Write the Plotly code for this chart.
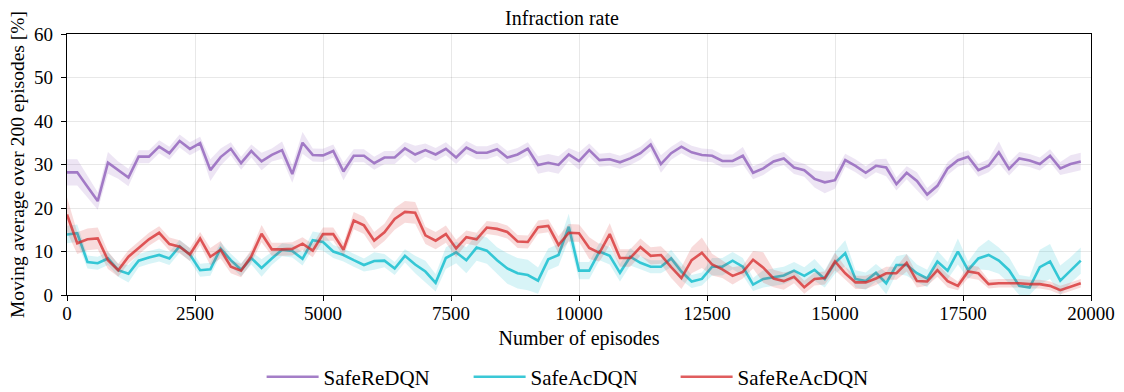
import plotly.graph_objects as go

# Episode index of each moving-average sample (every 200 episodes)
episodes = list(range(0, 20000, 200))

safe_re_dqn = [
    28.2, 28.2, 24.9, 21.6, 30.4, 28.7, 27.0, 31.8, 31.8, 34.1, 32.6, 35.4, 33.6, 34.9, 28.7, 31.7, 33.6,
    30.3, 33.1, 30.7, 32.2, 33.3, 27.8, 35.0, 32.2, 32.1, 33.1, 28.4, 32.0, 32.0, 30.3, 31.6, 31.6, 33.7,
    32.3, 33.3, 32.3, 33.6, 31.6, 33.9, 32.7, 32.7, 33.5, 31.6, 32.3, 33.6, 29.9, 30.4, 29.9, 32.3, 30.8,
    33.3, 31.0, 31.2, 30.5, 31.4, 32.6, 34.6, 30.1, 32.6, 34.1, 32.8, 32.2, 32.0, 30.8, 30.8, 32.0,
    28.1, 29.1, 30.7, 31.4, 29.3, 28.7, 26.7, 25.9, 26.4, 31.0, 29.7, 28.1, 29.7, 29.3, 25.5, 28.1, 26.2,
    23.1, 25.1, 29.1, 31.0, 31.8, 28.7, 29.7, 32.8, 29.0, 31.4, 30.9, 30.1, 32.0, 29.1, 30.1, 30.7,
]
safe_re_dqn_sd = [
    3.0, 3.0, 2.5, 2.0, 2.5, 2.0, 2.0, 1.5, 1.5, 1.5, 1.5, 1.5, 1.5, 1.5, 2.5, 2.0, 1.5,
    1.5, 1.5, 2.0, 1.5, 2.0, 2.0, 2.5, 1.5, 1.5, 1.5, 2.0, 1.5, 1.5, 1.5, 1.5, 1.5, 1.5,
    2.0, 1.5, 1.5, 1.5, 1.5, 1.5, 1.5, 1.5, 1.5, 1.5, 1.5, 1.5, 2.0, 2.0, 2.0, 1.5, 2.0,
    1.5, 1.5, 1.5, 1.5, 1.5, 1.5, 1.5, 2.0, 1.5, 1.5, 1.5, 1.5, 1.5, 1.5, 1.5, 2.0,
    1.5, 1.5, 1.5, 1.5, 1.5, 1.5, 2.0, 2.5, 2.0, 1.5, 1.5, 1.5, 1.5, 2.0, 1.5, 1.5, 2.0,
    1.5, 1.5, 1.5, 1.5, 1.5, 1.5, 1.5, 2.5, 1.5, 1.5, 1.5, 1.5, 1.5, 1.5, 2.0, 2.0,
]

safe_ac_dqn = [
    13.9, 14.2, 7.6, 7.3, 8.4, 5.7, 4.9, 7.9, 8.6, 9.2, 8.4, 11.2, 9.3, 5.7, 5.9, 10.7, 8.0,
    5.8, 8.5, 6.2, 8.4, 10.4, 10.1, 8.3, 12.6, 12.2, 10.0, 9.2, 8.0, 6.9, 7.8, 7.9, 6.1, 9.0,
    7.0, 5.4, 2.8, 8.5, 9.8, 8.0, 10.9, 10.2, 8.0, 6.1, 5.0, 4.6, 3.3, 8.2, 9.2, 15.7, 5.6,
    5.6, 10.0, 9.0, 5.1, 8.8, 7.4, 6.5, 6.5, 8.4, 5.4, 3.1, 3.7, 6.5, 6.5, 7.9, 6.5,
    2.4, 3.7, 4.1, 4.5, 5.6, 4.4, 5.8, 3.7, 7.4, 9.6, 3.7, 3.2, 5.1, 2.7, 6.9, 6.9, 5.0,
    3.8, 7.7, 5.6, 10.0, 5.7, 8.4, 9.2, 7.9, 5.7, 2.1, 1.7, 6.4, 7.7, 3.3, 5.7, 7.9,
]
safe_ac_dqn_sd = [
    2.0, 2.0, 1.5, 1.5, 1.5, 1.5, 2.0, 1.5, 1.5, 1.5, 1.5, 1.5, 1.5, 1.5, 1.5, 1.5, 1.5,
    1.5, 1.5, 2.0, 1.5, 1.5, 1.5, 1.5, 2.0, 2.0, 1.5, 1.5, 1.5, 1.5, 2.0, 1.5, 1.5, 1.5,
    2.0, 2.5, 2.0, 2.5, 2.5, 3.0, 3.0, 3.0, 3.0, 3.5, 3.5, 3.5, 3.0, 2.5, 2.5, 3.0, 2.0,
    2.0, 2.0, 2.0, 2.0, 2.0, 1.5, 1.5, 1.5, 2.0, 2.0, 1.5, 1.5, 2.0, 2.0, 2.0, 2.0,
    1.5, 2.0, 2.0, 2.0, 2.0, 2.0, 2.5, 2.0, 2.5, 3.0, 2.0, 2.0, 2.0, 2.5, 2.0, 2.5, 2.0,
    2.0, 2.5, 2.0, 3.0, 2.0, 2.5, 3.5, 3.0, 3.0, 2.5, 2.5, 4.0, 4.0, 3.5, 3.0, 3.0,
]

safe_re_ac_dqn = [
    18.5, 11.9, 12.8, 13.0, 8.0, 5.7, 8.8, 10.9, 12.8, 14.3, 11.7, 11.1, 9.3, 13.0, 8.8, 10.4, 6.5,
    5.6, 8.9, 14.1, 10.5, 10.5, 10.6, 11.8, 10.2, 14.0, 14.0, 10.4, 17.1, 16.0, 12.5, 14.4, 17.5, 19.1,
    18.9, 13.7, 12.5, 14.0, 10.7, 13.3, 12.8, 15.5, 15.2, 14.5, 12.3, 12.2, 15.6, 15.9, 11.5, 14.3, 14.2,
    10.8, 9.7, 14.0, 8.5, 8.5, 11.0, 9.0, 9.2, 6.4, 3.9, 8.0, 9.7, 7.0, 5.9, 4.4, 5.3,
    8.1, 6.3, 3.8, 3.2, 4.2, 1.8, 3.7, 3.9, 7.7, 5.0, 2.9, 2.9, 3.8, 5.0, 5.0, 7.4, 3.2,
    3.1, 5.7, 3.2, 2.1, 5.4, 5.0, 2.5, 2.7, 2.7, 2.7, 2.5, 2.5, 2.1, 1.1, 1.9, 2.7,
]
safe_re_ac_dqn_sd = [
    4.0, 2.5, 2.5, 2.5, 2.0, 1.5, 1.5, 1.5, 1.5, 1.5, 1.5, 1.5, 1.5, 1.5, 2.0, 2.0, 1.5,
    1.5, 1.5, 2.0, 1.5, 1.5, 1.5, 1.5, 1.5, 1.5, 1.5, 1.5, 2.0, 2.0, 2.0, 2.0, 2.5, 2.5,
    2.5, 2.0, 2.0, 2.0, 2.0, 1.5, 1.5, 1.5, 1.5, 1.5, 1.5, 1.5, 1.5, 1.5, 2.0, 2.0, 2.0,
    2.5, 2.0, 2.5, 2.0, 2.0, 2.0, 2.0, 2.0, 2.5, 2.5, 3.0, 3.5, 2.5, 2.0, 2.0, 1.5,
    2.0, 3.5, 2.0, 2.0, 1.5, 1.5, 1.5, 1.5, 2.0, 1.5, 1.5, 1.5, 1.5, 1.5, 1.5, 2.0, 1.5,
    1.0, 1.5, 1.5, 1.0, 1.5, 1.5, 1.0, 1.0, 1.0, 1.0, 1.0, 1.0, 1.0, 1.0, 1.0, 1.0,
]

x_ticks = [0, 2500, 5000, 7500, 10000, 12500, 15000, 17500, 20000]
y_ticks = [0, 10, 20, 30, 40, 50, 60]

series_names = ["SafeReDQN", "SafeAcDQN", "SafeReAcDQN"]
line_colors = ["rgba(148,103,189,0.85)", "rgba(23,190,207,0.85)", "rgba(214,39,40,0.75)"]
band_colors = ["rgba(148,103,189,0.17)", "rgba(23,190,207,0.17)", "rgba(214,39,40,0.17)"]
series_means = [safe_re_dqn, safe_ac_dqn, safe_re_ac_dqn]
series_sds = [safe_re_dqn_sd, safe_ac_dqn_sd, safe_re_ac_dqn_sd]

FONT = "Liberation Serif"
FS = 20        # titles
LEG_FS = 21    # legend entries
YT_FS = 19.5   # vertical axis title
TICK_FS = 19   # tick labels

fig = go.Figure()
for name, mean, sd, lc, bc in zip(series_names, series_means, series_sds, line_colors, band_colors):
    lower = [max(m - s, 0) for m, s in zip(mean, sd)]
    upper = [m + s for m, s in zip(mean, sd)]
    fig.add_trace(go.Scatter(x=episodes, y=lower, mode="lines", line=dict(width=0),
                             showlegend=False, hoverinfo="skip"))
    fig.add_trace(go.Scatter(x=episodes, y=upper, mode="lines", line=dict(width=0),
                             fill="tonexty", fillcolor=bc, showlegend=False, hoverinfo="skip"))
    fig.add_trace(go.Scatter(x=episodes, y=mean, mode="lines", name=name,
                             line=dict(color=lc, width=2.6)))

axis_common = dict(
    showline=True, linecolor="black", linewidth=1.3, mirror=True,
    ticks="outside", ticklen=5, tickwidth=1.2, tickcolor="black",
    showgrid=True, gridcolor="rgba(0,0,0,0.09)", gridwidth=1,
    zeroline=False, automargin=False,
    tickfont=dict(family=FONT, size=TICK_FS, color="black"),
)

fig.update_layout(
    width=1124, height=392,
    margin=dict(l=67, r=33, t=34, b=97),
    paper_bgcolor="white", plot_bgcolor="white",
    font=dict(family=FONT, size=FS, color="black"),
    title=dict(text="Infraction rate", x=0.5, xanchor="center", y=0.955, yanchor="middle",
               font=dict(family=FONT, size=FS, color="black")),
    xaxis=dict(range=[0, 20000], tickvals=x_ticks, ticktext=[str(v) for v in x_ticks],
               ticklabelstandoff=-4,
               title=dict(text="Number of episodes", standoff=8, font=dict(family=FONT, size=FS)),
               **axis_common),
    yaxis=dict(range=[0, 60], tickvals=y_ticks, ticktext=[str(v) for v in y_ticks],
               ticklabelstandoff=4,
               title=dict(text="Moving average over 200 episodes [%]", standoff=4,
                          font=dict(family=FONT, size=YT_FS)),
               **axis_common),
    legend=dict(orientation="h", x=0.509, xanchor="center", xref="container",
                y=0.038, yanchor="middle", yref="container",
                traceorder="normal", itemwidth=52, entrywidth=140,
                font=dict(family=FONT, size=LEG_FS), bgcolor="rgba(0,0,0,0)"),
    showlegend=True,
)

fig.write_html("out.html")
